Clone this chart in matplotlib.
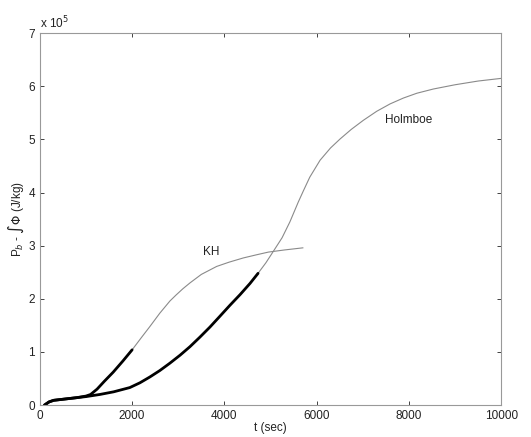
import matplotlib
matplotlib.use("Agg")
import matplotlib.pyplot as plt
import numpy as np

plt.rcParams['font.family'] = ['Liberation Sans', 'DejaVu Sans']

# KH run (values in units of 1e5 J/kg)
kh_t = [100, 200, 300, 500, 800, 1000, 1100, 1240, 1400, 1590, 1800, 2000, 2200,
        2386, 2600, 2820, 2950, 3100, 3254, 3500, 3832, 4100, 4410, 4700, 4953,
        5300, 5700]
kh_y = [0, 0.06, 0.09, 0.11, 0.14, 0.17, 0.20, 0.30, 0.45, 0.62, 0.83, 1.04, 1.27,
        1.48, 1.73, 1.96, 2.07, 2.19, 2.30, 2.46, 2.61, 2.69, 2.77, 2.83, 2.88,
        2.92, 2.96]
kh_thick_end = 2000

# Holmboe run
ho_t = [100, 200, 300, 500, 800, 1000, 1300, 1600, 1950, 2170, 2386, 2600, 2820,
        3040, 3254, 3470, 3688, 3900, 4121, 4340, 4555, 4729, 4900, 5050, 5250,
        5420, 5600, 5710, 5850, 6074, 6300, 6508, 6750, 7010, 7300, 7592, 7880,
        8170, 8530, 9000, 9500, 10000]
ho_y = [0, 0.06, 0.09, 0.11, 0.14, 0.16, 0.20, 0.25, 0.33, 0.42, 0.53, 0.65, 0.79,
        0.94, 1.10, 1.28, 1.47, 1.67, 1.88, 2.08, 2.29, 2.48, 2.68, 2.88, 3.15,
        3.45, 3.82, 4.03, 4.29, 4.61, 4.84, 5.01, 5.19, 5.36, 5.53, 5.67, 5.78,
        5.87, 5.95, 6.03, 6.10, 6.15]
ho_thick_end = 4729

x_ticks = [0, 2000, 4000, 6000, 8000, 10000]
y_ticks = [0, 1, 2, 3, 4, 5, 6, 7]

fig = plt.figure(figsize=(5.31, 4.37), dpi=100)
ax = fig.add_axes([0.075, 0.073, 0.869, 0.851])


def draw_run(t, y, t_split):
    t = np.array(t)
    y = np.array(y)
    ax.plot(t, y, color='#8a8a8a', linewidth=0.8, solid_joinstyle='round')
    m = t <= t_split
    ax.plot(t[m], y[m], color='black', linewidth=2.0, solid_capstyle='round',
            solid_joinstyle='round')


draw_run(kh_t, kh_y, kh_thick_end)
draw_run(ho_t, ho_y, ho_thick_end)

ax.text(3540, 2.88, "KH", fontsize=8.5, color='#222222', va='center')
ax.text(7480, 5.37, "Holmboe", fontsize=8.5, color='#222222', va='center')

ax.set_xlim(0, 10000)
ax.set_ylim(0, 7)
ax.set_xticks(x_ticks)
ax.set_yticks(y_ticks)
ax.tick_params(direction='in', top=True, right=True, labelsize=8.5,
               colors='#222222', length=3, width=0.6)
for s in ax.spines.values():
    s.set_color('#999999')
    s.set_linewidth(0.8)

ax.set_xlabel("t (sec)", fontsize=8.5, labelpad=0, color='#222222')
ax.set_ylabel(r"P$_b$ - $\int\Phi$ (J/kg)", fontsize=8.5, labelpad=2, color='#222222')
ax.text(0.0, 1.005, r"x 10$^5$", transform=ax.transAxes, fontsize=8.5,
        color='#222222', va='bottom', ha='left')

fig.savefig("out.png", dpi=100)
